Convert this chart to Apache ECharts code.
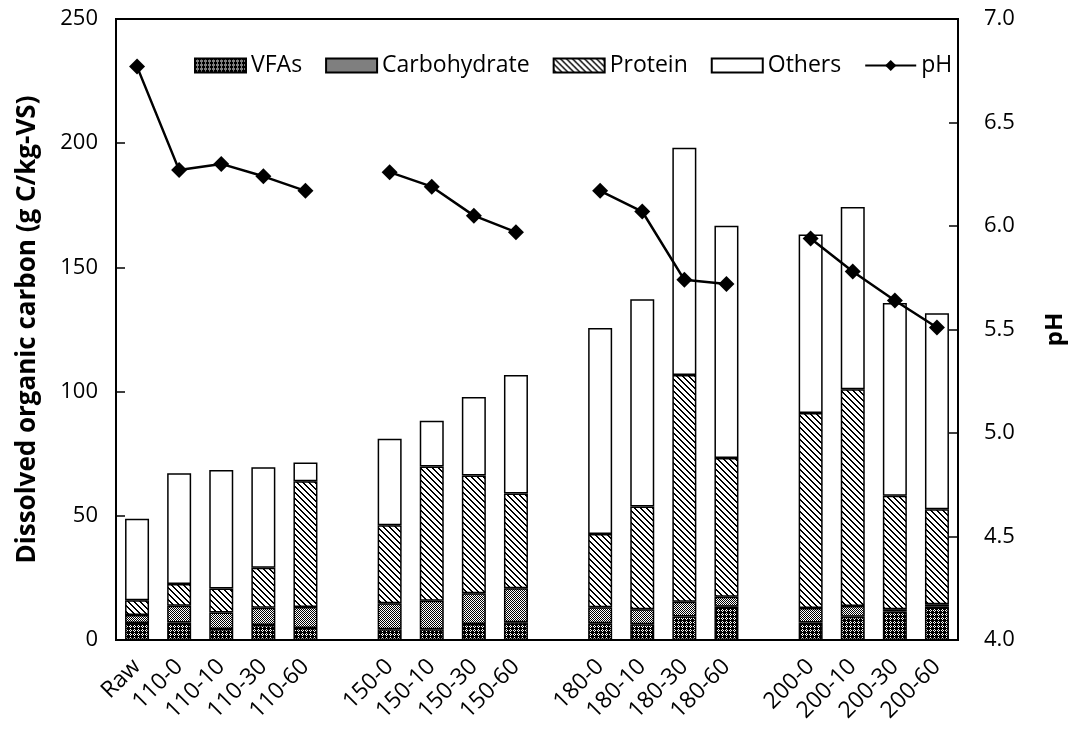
<!DOCTYPE html>
<html>
<head>
<meta charset="utf-8">
<script src="https://cdn.jsdelivr.net/npm/echarts@6/dist/echarts.min.js"></script>
<style>
  html, body { margin: 0; padding: 0; background: #fff; }
  #chart { width: 1075px; height: 731px; }
</style>
</head>
<body>
<div id="chart"></div>
<script>
// empty strings are the gaps between temperature groups
const categories = ['Raw', '110-0', '110-10', '110-30', '110-60', '',
  '150-0', '150-10', '150-30', '150-60', '',
  '180-0', '180-10', '180-30', '180-60', '',
  '200-0', '200-10', '200-30', '200-60'];

const vfas = [6.8, 7.0, 4.4, 6.0, 4.8, null,
  4.3, 4.3, 6.4, 7.1, null,
  6.7, 6.3, 9.5, 13.4, null,
  7.0, 9.4, 11.4, 13.4];
const carbohydrate = [3.3, 6.8, 6.7, 7.0, 8.5, null,
  10.5, 11.5, 12.4, 13.7, null,
  6.5, 6.1, 5.9, 4.0, null,
  5.9, 4.3, 1.0, 1.0];
const protein = [5.9, 8.7, 9.6, 16.1, 50.6, null,
  31.4, 54.0, 47.4, 38.2, null,
  29.5, 41.3, 91.3, 55.9, null,
  78.5, 87.2, 45.7, 38.2];
const others = [32.8, 44.6, 47.7, 40.4, 7.6, null,
  34.8, 18.5, 31.6, 47.7, null,
  82.9, 83.5, 91.5, 93.5, null,
  71.8, 73.4, 77.6, 78.9];
const ph = [6.77, 6.27, 6.30, 6.24, 6.17, null,
  6.26, 6.19, 6.05, 5.97, null,
  6.17, 6.07, 5.74, 5.72, null,
  5.94, 5.78, 5.64, 5.51];

const font = 'Open Sans';

// small black/white tiles used as fill patterns
function makeTile(size, isBlack) {
  const c = document.createElement('canvas');
  c.width = c.height = size;
  const ctx = c.getContext('2d');
  ctx.fillStyle = '#fff';
  ctx.fillRect(0, 0, size, size);
  ctx.fillStyle = '#000';
  for (let y = 0; y < size; y++) {
    for (let x = 0; x < size; x++) {
      if (isBlack(x, y)) ctx.fillRect(x, y, 1, 1);
    }
  }
  return { image: c, repeat: 'repeat' };
}

const vfaFill = makeTile(4, (x, y) => (x + y) % 2 === 0 || y === 0 || x === 0);
const carbFill = makeTile(2, (x, y) => (x + y) % 2 === 0);
const proteinFill = makeTile(6, (x, y) => ((x - y + 6) % 6) < 2);

function barSeries(name, data, fill) {
  return {
    name: name,
    type: 'bar',
    stack: 'doc',
    barWidth: 24,
    data: data,
    itemStyle: { color: fill, borderColor: '#000', borderWidth: 1.5 }
  };
}

const chart = echarts.init(document.getElementById('chart'));
chart.setOption({
  animation: false,
  backgroundColor: '#fff',
  textStyle: { fontFamily: font, color: '#000' },
  grid: {
    left: 116, right: 117, top: 19, bottom: 91,
    show: true, borderColor: '#000', borderWidth: 2
  },
  legend: {
    left: 189,
    top: 49,
    itemWidth: 51,
    itemHeight: 14,
    itemGap: 23,
    textStyle: { fontFamily: font, fontSize: 23, color: '#000' },
    data: [
      { name: 'VFAs', icon: 'rect' },
      { name: 'Carbohydrate', icon: 'rect' },
      { name: 'Protein', icon: 'rect' },
      { name: 'Others', icon: 'rect' },
      { name: 'pH' }
    ]
  },
  xAxis: {
    type: 'category',
    data: categories,
    axisLine: { lineStyle: { color: '#000', width: 2 } },
    axisTick: { show: false },
    axisLabel: {
      interval: 0, rotate: 45, margin: 23,
      fontFamily: font, fontSize: 23, color: '#000'
    }
  },
  yAxis: [
    {
      type: 'value',
      min: 0, max: 250, interval: 50,
      name: 'Dissolved organic carbon (g C/kg-VS)',
      nameLocation: 'middle',
      nameRotate: 90,
      nameGap: 75,
      nameTextStyle: { fontFamily: font, fontSize: 26, fontWeight: 'bold', color: '#000' },
      axisLine: { show: true, lineStyle: { color: '#000', width: 2 } },
      axisTick: { show: true, inside: true, length: 9, lineStyle: { color: '#000', width: 1.5 } },
      axisLabel: { margin: 18, fontFamily: font, fontSize: 22, color: '#000' },
      splitLine: { show: false }
    },
    {
      type: 'value',
      min: 4, max: 7, interval: 0.5,
      name: 'pH',
      nameLocation: 'middle',
      nameRotate: 90,
      nameGap: 85,
      nameTextStyle: { fontFamily: font, fontSize: 24, fontWeight: 'bold', color: '#000' },
      axisLine: { show: true, lineStyle: { color: '#000', width: 2 } },
      axisTick: { show: true, inside: true, length: 9, lineStyle: { color: '#000', width: 1.5 } },
      axisLabel: {
        margin: 26, fontFamily: font, fontSize: 22, color: '#000',
        formatter: v => v.toFixed(1)
      },
      splitLine: { show: false }
    }
  ],
  series: [
    barSeries('VFAs', vfas, vfaFill),
    barSeries('Carbohydrate', carbohydrate, carbFill),
    barSeries('Protein', protein, proteinFill),
    barSeries('Others', others, '#fff'),
    {
      name: 'pH',
      type: 'line',
      yAxisIndex: 1,
      data: ph,
      symbol: 'diamond',
      symbolSize: 16,
      lineStyle: { color: '#000', width: 2.5 },
      itemStyle: { color: '#000' },
      z: 5
    }
  ]
});
</script>
</body>
</html>
